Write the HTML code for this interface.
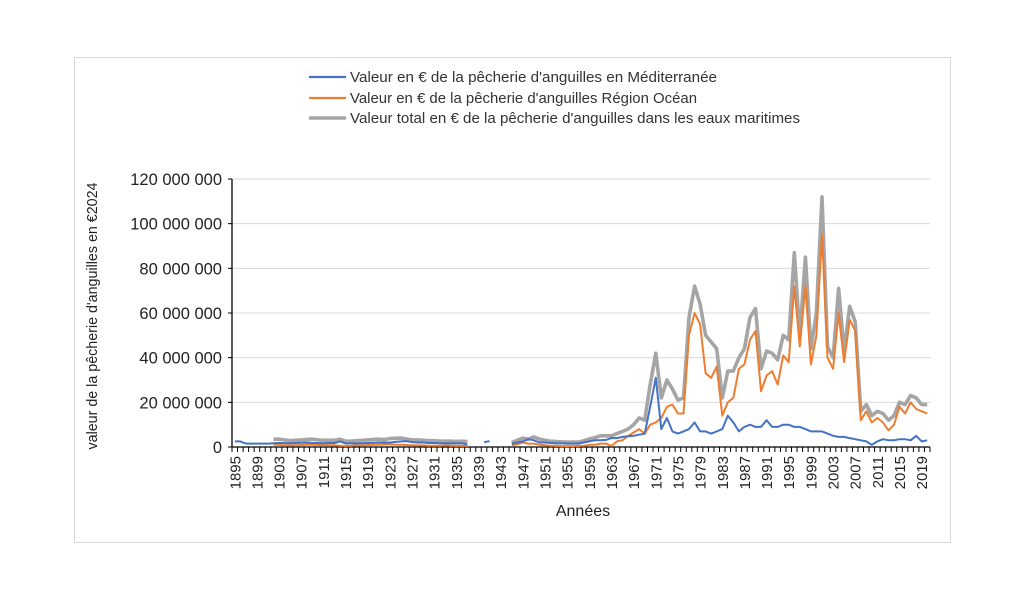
<!DOCTYPE html>
<html><head><meta charset="utf-8"><style>
body{margin:0;background:#fff;}
svg{display:block;font-family:"Liberation Sans",sans-serif;}
</style></head><body>
<svg id="s" width="1024" height="599" xmlns="http://www.w3.org/2000/svg">
<rect x="74.5" y="57.5" width="876" height="485" fill="#fff" stroke="#d9d9d9"/>
<g id="grid"></g>
<g id="series"></g>
<g font-size="15" fill="#333">
<line x1="309" y1="77" x2="346" y2="77" stroke="#4472c4" stroke-width="2.2"/>
<text x="350" y="82" textLength="367" lengthAdjust="spacingAndGlyphs">Valeur en € de la pêcherie d'anguilles en Méditerranée</text>
<line x1="309" y1="98" x2="346" y2="98" stroke="#ed7d31" stroke-width="2.2"/>
<text x="350" y="103" textLength="347" lengthAdjust="spacingAndGlyphs">Valeur en € de la pêcherie d'anguilles Région Océan</text>
<line x1="309" y1="118" x2="346" y2="118" stroke="#a5a5a5" stroke-width="3.5"/>
<text x="350" y="123" textLength="450" lengthAdjust="spacingAndGlyphs">Valeur total en € de la pêcherie d'anguilles dans les eaux maritimes</text>
</g>
<text x="583" y="516" font-size="16" text-anchor="middle" fill="#222">Années</text>
<text transform="translate(97,316) rotate(-90)" font-size="15" text-anchor="middle" fill="#222" textLength="267" lengthAdjust="spacingAndGlyphs">valeur de la pêcherie d'anguilles en €2024</text>
</svg>
<script>
const s=document.getElementById('s'),g=document.getElementById('grid'),se=document.getElementById('series');
const NS='http://www.w3.org/2000/svg';
function el(p,t,a,txt){const e=document.createElementNS(NS,t);for(const k in a)e.setAttribute(k,a[k]);if(txt!=null)e.textContent=txt;p.appendChild(e);return e;}
const X0=232,X1=930,Y0=447,N=126,dx=(X1-X0)/N;
const Y=v=>Y0-v/120*268;
for(let k=0;k<=6;k++){const y=Y(k*20);
 if(k>0)el(g,'line',{x1:X0,x2:X1,y1:y,y2:y,stroke:'#d9d9d9','stroke-width':1});
 el(g,'line',{x1:X0-4,x2:X0,y1:y,y2:y,stroke:'#000'});
 el(g,'text',{x:222,y:y+6,'font-size':16.5,'text-anchor':'end',fill:'#222'},k==0?'0':(k*20)+' 000 000');}
el(g,'line',{x1:X0,x2:X0,y1:179,y2:Y0,stroke:'#000','stroke-width':1.3});
el(g,'line',{x1:X0,x2:X1,y1:Y0,y2:Y0,stroke:'#000','stroke-width':1.3});
for(let i=0;i<=N;i++){const x=X0+i*dx;el(g,'line',{x1:x,x2:x,y1:Y0,y2:Y0+5,stroke:'#000'});}
for(let i=0;i<N;i+=4){const x=X0+(i+0.5)*dx;el(g,'text',{transform:`translate(${x+5.5},${Y0+9}) rotate(-90)`,'font-size':15,'text-anchor':'end',fill:'#222'},1895+i);}
const med={},oce={},tot={};
function set(o,y0,arr){arr.forEach((v,i)=>o[y0+i]=v);}
set(med,1895,[2.5,2.5,1.5,1.5,1.5,1.5,1.5,1.7,1.8,1.8,1.7,1.8,1.9,2,1.8,1.8,1.7,1.8,1.8,2.5,1.6,1.6,1.6,1.7,1.8,1.9,2,2,2,2.3,2.5,2.6,2.2,2,2,1.8,1.8,1.7,1.6,1.7,1.6,1.6,1.2]);
set(med,1940,[2.2,2.6]);
set(med,1945,[1.5,2,2.5,3.5,3,2,2,1.8,1.6,1.6,1.5,1.5,1.5,2,2.5,3,3,3.2,4,4,4.5,4.8,5,5.5,6,18,31,8,13,7,6,7,8,11,7,7,6,7,8,14,11,7,9,10,9,9,12,9,9,10,10,9,9,8,7,7,7,6,5,4.5,4.5,4,3.5,3,2.5,1,2.5,3.5,3,3,3.5,3.5,3,5,2.5,3]);
set(oce,1902,[1,1,0.8,0.8,0.8,0.9,1,1,0.9,0.9,0.8,0.8,0.6,0.5,0.6,0.8,0.8,0.9,1,1,1.1,1.2,1,1,0.9,0.8,0.7,0.7,0.6,0.6,0.6,0.7,0.6,0.5,0.5,0.5]);
set(oce,1945,[0.8,1.2,2,1.5,1.5,1,0.8,0.6,0.5,0.4,0.4,0.4,0.5,0.6,1,1,1.5,1.5,0.5,2.5,3,5,6.5,8,6,10,11,13,18,19,15,15,50,60,55,33,31,36,14,20,22,35,37,48,52,25,32,34,28,41,38,72,45,72,37,50,95,40,35,60,38,57,52,12,16,11,13,11,7.5,10,18,15,20,17,16,15]);
set(tot,1902,[3.5,3.5,3.2,2.8,3,3.2,3.4,3.5,3.2,3,3,3,3.5,2.6,2.6,2.8,3,3.2,3.4,3.5,3.3,3.8,3.9,4,3.6,3.2,3.2,3,2.8,2.8,2.6,2.6,2.6,2.5,2.6,2.4]);
set(tot,1945,[2,3,4,3.5,4.5,3.5,3,2.6,2.4,2.3,2.2,2.2,2.2,2.8,3.6,4.2,5,5,5,6,7,8,10,13,12,28,42,22,30,26,21,22,58,72,64,50,47,44,22,34,34,40,44,58,62,35,43,42,39,50,48,87,50,85,44,60,112,45,40,71,43,63,56,16,19,14,16,15,12,14,20,19,23,22,19,19]);
function draw(o,col,w){let segs=[],cur=[];
 for(let yr=1895;yr<=2020;yr++){if(o[yr]!=null){cur.push([X0+(yr-1895+0.5)*dx,Y(o[yr])]);}else{if(cur.length)segs.push(cur);cur=[];}}
 if(cur.length)segs.push(cur);
 segs.forEach(sg=>el(se,'polyline',{points:sg.map(p=>p[0].toFixed(1)+','+p[1].toFixed(1)).join(' '),fill:'none',stroke:col,'stroke-width':w,'stroke-linejoin':'round'}));}
draw(tot,'#a5a5a5',3.6);draw(oce,'#ed7d31',2);draw(med,'#4472c4',2);
</script>
</body></html>
